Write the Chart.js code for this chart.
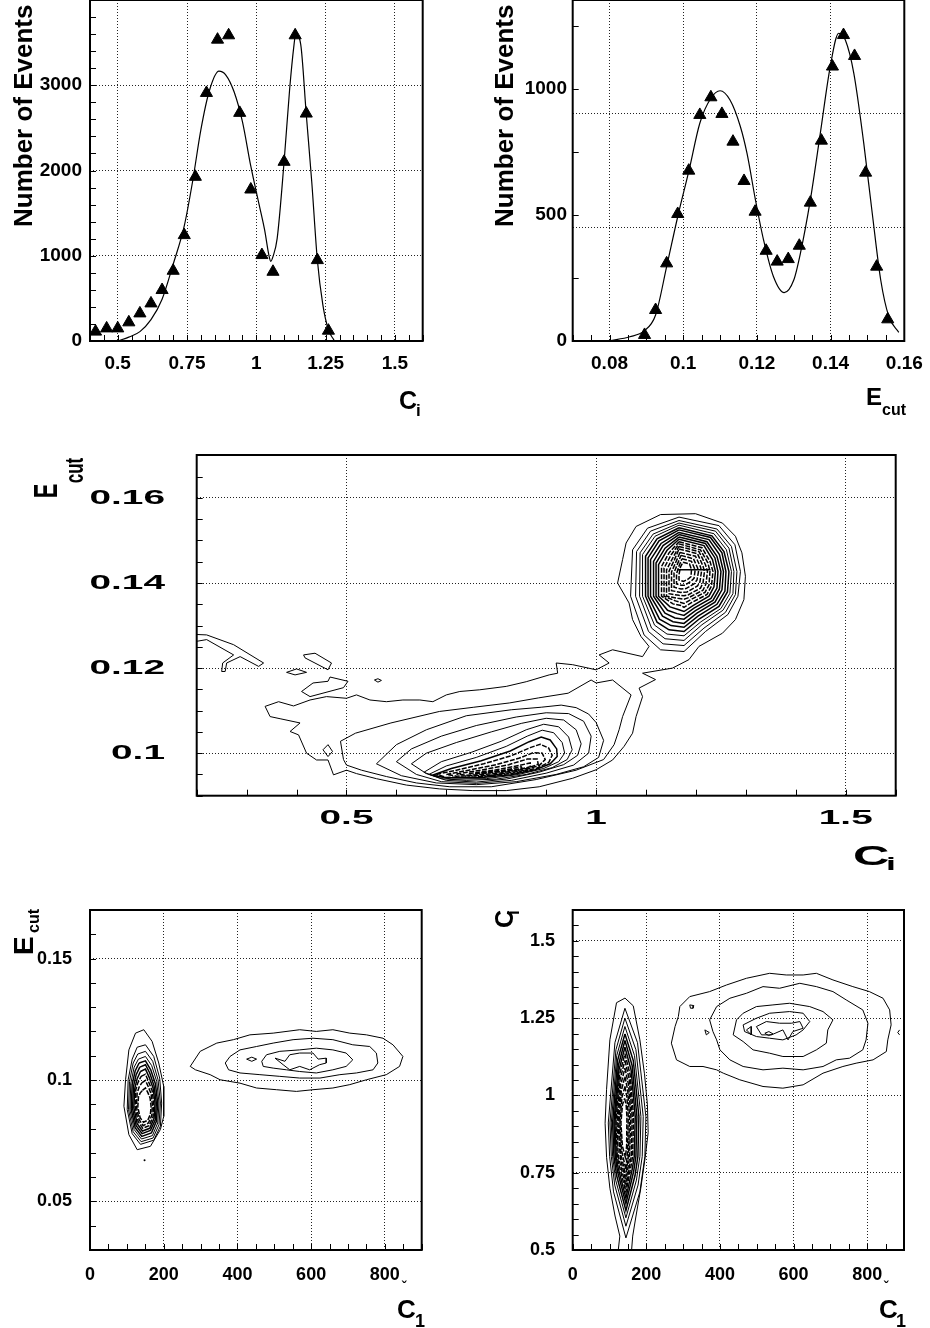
<!DOCTYPE html>
<html>
<head>
<meta charset="utf-8">
<script src="https://cdn.jsdelivr.net/npm/chart.js@4/dist/chart.umd.min.js"></script>
<style>
  html, body { margin: 0; padding: 0; background: #fff; }
  #page { position: relative; width: 930px; height: 1328px; overflow: hidden; background: #fff; }
  #page canvas { position: absolute; }
</style>
</head>
<body>
<div id="page">
  <canvas id="p-ci"   width="465" height="425" style="left:0;top:0"></canvas>
  <canvas id="p-ecut" width="465" height="425" style="left:465px;top:0"></canvas>
  <canvas id="p-map"  width="930" height="440" style="left:0;top:440px"></canvas>
  <canvas id="p-c1e"  width="465" height="438" style="left:0;top:890px"></canvas>
  <canvas id="p-c1c"  width="465" height="438" style="left:465px;top:890px"></canvas>
</div>
<script>
/* ---- C_i distribution ------------------------------------------- */
const ciBinCenters  = [0.42,0.46,0.50,0.54,0.58,0.62,0.66,0.70,0.74,0.78,0.82,0.86,0.90,0.94,0.98,1.02,1.06,1.10,1.14,1.18,1.22,1.26];
const ciEventCounts = [110,148,148,219,324,441,598,824,1242,1926,2910,3535,3586,2676,1777,1008,812,2102,3586,2668,949,121];
const ciFitX = [0.50,0.54,0.58,0.62,0.66,0.70,0.74,0.77,0.80,0.83,0.865,0.89,0.92,0.95,0.98,1.01,1.03,1.045,1.052,1.06,1.075,1.10,1.12,1.135,1.142,1.16,1.18,1.20,1.22,1.24,1.26,1.28];
const ciFitY = [0,45,110,250,490,900,1350,1870,2480,2930,3165,3120,2920,2570,2050,1600,1300,1010,935,990,1200,2100,2950,3450,3600,3480,2660,1860,950,420,130,10];
const ciTicksTop   = [0.5,0.75,1,1.25,1.5];
const ciCountTicks = [0,1000,2000,3000];

/* ---- E_cut distribution ----------------------------------------- */
const ecutBinCenters  = [0.0895,0.0925,0.0955,0.0985,0.1015,0.1045,0.1075,0.1105,0.1135,0.1165,0.1195,0.1225,0.1255,0.1285,0.1315,0.1345,0.1375,0.1405,0.1435,0.1465,0.1495,0.1525,0.1555];
const ecutEventCounts = [24,123,308,504,676,897,967,901,791,635,513,358,315,325,378,549,795,1089,1214,1131,668,295,86];
const ecutFitX = [0.080,0.0855,0.0894,0.0925,0.0955,0.0985,0.1016,0.1045,0.1075,0.1100,0.1127,0.1155,0.1173,0.1196,0.1218,0.1245,0.1274,0.1300,0.1318,0.1345,0.1372,0.1399,0.1422,0.1440,0.1463,0.1490,0.1513,0.1536,0.1558,0.1585];
const ecutFitY = [1,17,40,103,295,493,679,864,963,993,956,851,745,560,401,255,192,242,348,560,824,1089,1221,1194,1062,784,507,242,97,34];
const ecutTicksTop   = [0.08,0.1,0.12,0.14,0.16];
const ecutCountTicks = [0,500,1000];

/* ---- E_cut vs C_i contours -------------------------------------- */
const mapCiTicks   = [0.5,1,1.5];
const mapEcutTicks = [0.1,0.12,0.14,0.16];

// lowest level: one contour wrapping both clusters and the bridge between them
const mapOuter = [[1.129,0.1561],[1.199,0.1563],[1.253,0.1541],[1.279,0.1510],[1.292,0.1471],[1.299,0.1416],[1.296,0.1361],[1.279,0.1314],[1.253,0.1282],[1.206,0.1251],[1.186,0.1220],[1.153,0.1200],[1.093,0.1188],[1.119,0.1173],[1.086,0.1153],[1.093,0.1133],[1.080,0.1086],[1.073,0.1047],[1.056,0.1016],[1.033,0.0984],[1.000,0.0961],[0.953,0.0941],[0.886,0.0921],[0.820,0.0912],[0.753,0.0912],[0.686,0.0916],[0.620,0.0925],[0.560,0.0940],[0.520,0.0952],[0.500,0.0960],[0.474,0.0949],[0.463,0.0984],[0.440,0.0984],[0.420,0.1000],[0.404,0.1043],[0.387,0.1051],[0.407,0.1071],[0.367,0.1081],[0.347,0.1086],[0.337,0.1110],[0.364,0.1121],[0.394,0.1111],[0.427,0.1125],[0.460,0.1133],[0.500,0.1129],[0.520,0.1137],[0.547,0.1125],[0.580,0.1121],[0.613,0.1125],[0.647,0.1125],[0.673,0.1121],[0.700,0.1137],[0.727,0.1145],[0.767,0.1149],[0.820,0.1157],[0.860,0.1168],[0.906,0.1184],[0.923,0.1188],[0.920,0.1212],[0.953,0.1208],[1.000,0.1196],[1.026,0.1212],[1.006,0.1231],[1.033,0.1243],[1.093,0.1227],[1.106,0.1251],[1.090,0.1274],[1.073,0.1314],[1.066,0.1353],[1.043,0.1400],[1.053,0.1455],[1.060,0.1494],[1.080,0.1533]];

const mapLowerRings = [
  [[0.494,0.0985],[0.488,0.1028],[0.518,0.1047],[0.589,0.1071],[0.686,0.1098],[0.755,0.1108],[0.826,0.1118],[0.885,0.1130],[0.944,0.1141],[0.990,0.1172],[1.000,0.1165],[1.033,0.1172],[1.070,0.1137],[1.053,0.1086],[1.046,0.1055],[1.036,0.1020],[1.015,0.0985],[0.960,0.0960],[0.880,0.0938],[0.790,0.0921],[0.707,0.0921],[0.640,0.0930],[0.580,0.0945],[0.530,0.0960],[0.500,0.0972]],
  [[0.56,0.0975],[0.60,0.1020],[0.66,0.1055],[0.74,0.1088],[0.83,0.1102],[0.89,0.1108],[0.93,0.1113],[0.96,0.1107],[0.985,0.1092],[1.00,0.1072],[1.015,0.1030],[1.005,0.0990],[0.975,0.0968],[0.92,0.0950],[0.84,0.0933],[0.76,0.0926],[0.68,0.0930],[0.61,0.0947]],
  [[0.60,0.0980],[0.63,0.1010],[0.69,0.1040],[0.76,0.1065],[0.84,0.1085],[0.90,0.1095],[0.945,0.1093],[0.975,0.1075],[0.99,0.1040],[0.985,0.1000],[0.955,0.0972],[0.90,0.0953],[0.83,0.0936],[0.76,0.0929],[0.69,0.0933],[0.64,0.0950]],
  [[0.63,0.0975],[0.66,0.1000],[0.72,0.1025],[0.79,0.1050],[0.85,0.1070],[0.90,0.1082],[0.935,0.1078],[0.96,0.1055],[0.97,0.1022],[0.963,0.0995],[0.935,0.0973],[0.885,0.0955],[0.82,0.0939],[0.76,0.0932],[0.70,0.0936],[0.66,0.0952]],
  [[0.655,0.0955],[0.69,0.0980],[0.75,0.1002],[0.81,0.1028],[0.86,0.1055],[0.895,0.1068],[0.925,0.1062],[0.945,0.1038],[0.952,0.1008],[0.942,0.0985],[0.912,0.0966],[0.86,0.0950],[0.80,0.0939],[0.74,0.0936],[0.69,0.0940]],
  [[0.665,0.0950],[0.70,0.0970],[0.76,0.0990],[0.82,0.1016],[0.862,0.1040],[0.892,0.1054],[0.915,0.1048],[0.932,0.1025],[0.937,0.1000],[0.925,0.0980],[0.895,0.0964],[0.845,0.0950],[0.78,0.0940],[0.71,0.0939]],
  [[0.672,0.0948],[0.71,0.0964],[0.77,0.0982],[0.828,0.1005],[0.866,0.1027],[0.89,0.1038],[0.908,0.1031],[0.921,0.1010],[0.922,0.0992],[0.908,0.0975],[0.878,0.0961],[0.83,0.0949],[0.765,0.0942],[0.70,0.0942]],
  [[0.68,0.0950],[0.72,0.0960],[0.775,0.0975],[0.83,0.0994],[0.868,0.1013],[0.888,0.1021],[0.905,0.1012],[0.912,0.0995],[0.905,0.0978],[0.88,0.0964],[0.83,0.0952],[0.76,0.0944],[0.70,0.0943]],
  [[0.70,0.0950],[0.745,0.0960],[0.80,0.0973],[0.845,0.0988],[0.874,0.1001],[0.892,0.1000],[0.898,0.0985],[0.886,0.0971],[0.85,0.0958],[0.79,0.0948],[0.72,0.0946]],
  [[0.72,0.0951],[0.77,0.0960],[0.825,0.0973],[0.862,0.0986],[0.882,0.0986],[0.884,0.0974],[0.856,0.0962],[0.80,0.0952],[0.74,0.0948]],
  [[0.745,0.0952],[0.80,0.0961],[0.845,0.0971],[0.868,0.0977],[0.868,0.0968],[0.84,0.0960],[0.78,0.0953]],
  [[0.77,0.0954],[0.82,0.0961],[0.85,0.0968],[0.852,0.0964],[0.82,0.0958],[0.79,0.0955]]
];

const mapUpperRings = [
  [[1.166,0.1555],[1.246,0.1535],[1.278,0.1490],[1.289,0.1427],[1.284,0.1369],[1.264,0.1326],[1.219,0.1286],[1.176,0.1239],[1.129,0.1243],[1.096,0.1278],[1.069,0.1369],[1.073,0.1478],[1.103,0.1529]],
  [[1.166,0.1547],[1.242,0.1527],[1.271,0.1486],[1.282,0.1427],[1.279,0.1373],[1.259,0.1331],[1.216,0.1294],[1.176,0.1253],[1.134,0.1257],[1.105,0.1286],[1.079,0.1369],[1.081,0.1474],[1.109,0.1522]],
  [[1.166,0.1541],[1.239,0.1522],[1.266,0.1482],[1.276,0.1427],[1.274,0.1375],[1.254,0.1336],[1.212,0.1302],[1.176,0.1265],[1.138,0.1269],[1.111,0.1294],[1.087,0.1369],[1.088,0.1471],[1.114,0.1515]],
  [[1.166,0.1536],[1.236,0.1516],[1.261,0.1478],[1.271,0.1427],[1.268,0.1376],[1.250,0.1340],[1.210,0.1309],[1.176,0.1276],[1.142,0.1280],[1.117,0.1301],[1.093,0.1369],[1.093,0.1467],[1.118,0.1510]],
  [[1.166,0.1530],[1.232,0.1511],[1.256,0.1474],[1.266,0.1427],[1.263,0.1379],[1.246,0.1345],[1.207,0.1316],[1.176,0.1286],[1.146,0.1290],[1.122,0.1308],[1.099,0.1369],[1.099,0.1463],[1.122,0.1504]],
  [[1.166,0.1525],[1.229,0.1507],[1.252,0.1471],[1.260,0.1427],[1.258,0.1381],[1.242,0.1350],[1.204,0.1322],[1.176,0.1296],[1.150,0.1300],[1.127,0.1315],[1.104,0.1369],[1.104,0.1459],[1.126,0.1499]],
  [[1.166,0.1519],[1.226,0.1502],[1.247,0.1467],[1.255,0.1427],[1.252,0.1384],[1.238,0.1355],[1.202,0.1329],[1.176,0.1305],[1.154,0.1309],[1.133,0.1322],[1.109,0.1369],[1.109,0.1455],[1.130,0.1493]],
  [[1.166,0.1514],[1.222,0.1497],[1.242,0.1463],[1.250,0.1427],[1.247,0.1386],[1.234,0.1359],[1.199,0.1335],[1.176,0.1315],[1.158,0.1318],[1.138,0.1329],[1.115,0.1369],[1.115,0.1451],[1.134,0.1488]],
  [[1.166,0.1508],[1.219,0.1493],[1.238,0.1459],[1.244,0.1427],[1.242,0.1388],[1.230,0.1364],[1.196,0.1341],[1.176,0.1324],[1.162,0.1328],[1.143,0.1336],[1.120,0.1369],[1.120,0.1447],[1.138,0.1482]],
  [[1.166,0.1503],[1.216,0.1488],[1.233,0.1455],[1.239,0.1427],[1.236,0.1391],[1.226,0.1369],[1.194,0.1347],[1.176,0.1333],[1.166,0.1337],[1.148,0.1344],[1.125,0.1369],[1.125,0.1443],[1.142,0.1477]],
  [[1.166,0.1497],[1.212,0.1483],[1.228,0.1451],[1.234,0.1427],[1.231,0.1393],[1.222,0.1373],[1.191,0.1354],[1.176,0.1343],[1.170,0.1347],[1.154,0.1351],[1.131,0.1369],[1.131,0.1439],[1.146,0.1471]],
  [[1.166,0.1492],[1.209,0.1478],[1.224,0.1447],[1.228,0.1427],[1.226,0.1395],[1.218,0.1378],[1.188,0.1360],[1.176,0.1352],[1.159,0.1358],[1.136,0.1369],[1.136,0.1435],[1.150,0.1466]],
  [[1.166,0.1486],[1.206,0.1474],[1.219,0.1443],[1.223,0.1427],[1.220,0.1398],[1.214,0.1383],[1.186,0.1366],[1.176,0.1362],[1.164,0.1364],[1.141,0.1369],[1.141,0.1431],[1.154,0.1460]],
  [[1.166,0.1480],[1.203,0.1469],[1.214,0.1440],[1.217,0.1427],[1.214,0.1400],[1.209,0.1388],[1.184,0.1372],[1.176,0.1370],[1.166,0.1371],[1.146,0.1375],[1.146,0.1428],[1.157,0.1455]],
  [[1.168,0.1472],[1.199,0.1463],[1.209,0.1438],[1.211,0.1427],[1.208,0.1403],[1.203,0.1393],[1.182,0.1379],[1.170,0.1378],[1.151,0.1382],[1.151,0.1426],[1.160,0.1450]],
  [[1.170,0.1465],[1.195,0.1457],[1.203,0.1436],[1.205,0.1427],[1.202,0.1407],[1.196,0.1398],[1.180,0.1387],[1.170,0.1386],[1.156,0.1390],[1.156,0.1424],[1.163,0.1445]],
  [[1.172,0.1457],[1.191,0.1451],[1.197,0.1434],[1.198,0.1427],[1.196,0.1411],[1.190,0.1404],[1.178,0.1395],[1.170,0.1395],[1.161,0.1398],[1.161,0.1422],[1.166,0.1440]],
  [[1.174,0.1449],[1.187,0.1445],[1.191,0.1432],[1.190,0.1415],[1.184,0.1409],[1.175,0.1404],[1.166,0.1407],[1.166,0.1420],[1.169,0.1438]]
];
const mapUpperBar = [[1.163,0.1431],[1.229,0.1431]];

const mapIslands = [
  [[0.414,0.1231],[0.437,0.1235],[0.470,0.1212],[0.463,0.1196],[0.417,0.1224]],
  [[0.380,0.1190],[0.400,0.1198],[0.420,0.1190],[0.397,0.1184]],
  [[0.410,0.1145],[0.433,0.1165],[0.463,0.1169],[0.467,0.1179],[0.503,0.1169],[0.494,0.1154],[0.427,0.1133]],
  [[0.556,0.1172],[0.563,0.1175],[0.570,0.1171],[0.563,0.1167]],
  [[0.453,0.1008],[0.463,0.1020],[0.472,0.1004],[0.463,0.0992]]
];
const mapEdgeTail = [[0.200,0.1279],[0.220,0.1278],[0.274,0.1255],[0.334,0.1212],[0.324,0.1204],[0.287,0.1227],[0.260,0.1212],[0.257,0.1192],[0.250,0.1192],[0.252,0.1212],[0.274,0.1231],[0.220,0.1267],[0.200,0.1263]];

/* ---- E_cut vs C_1 contours -------------------------------------- */
const c1Ticks       = [0,200,400,600,800];
const c1EcutTicks   = [0.05,0.1,0.15];
const c1eLeftRings = [
  [[123.5,0.1193],[146,0.1207],[168.5,0.1159],[186.5,0.1070],[200,0.0974],[200,0.0850],[191,0.0796],[164,0.0727],[128,0.0713],[105.5,0.0775],[92,0.0892],[96.5,0.1001],[105.5,0.1124]],
  [[128,0.1135],[150.5,0.1145],[173,0.1097],[189,0.1008],[194.5,0.0905],[191,0.0810],[173,0.0752],[137,0.0735],[114.5,0.0779],[101,0.0878],[103.5,0.1001],[114.5,0.1086]],
  [[129.7,0.1107],[150.5,0.1118],[170.2,0.1077],[184.6,0.1001],[191,0.0905],[187.3,0.0816],[171.1,0.0761],[138.7,0.0746],[117.1,0.0787],[104.5,0.0878],[107.2,0.0994],[117.1,0.1070]],
  [[131.5,0.1086],[150.5,0.1097],[167.5,0.1059],[181,0.0994],[187.3,0.0905],[183.7,0.0823],[169.3,0.0771],[139.6,0.0757],[119.8,0.0796],[108.1,0.0878],[110.8,0.0987],[119.8,0.1053]],
  [[133.3,0.1070],[150.5,0.1079],[164.8,0.1042],[177.4,0.0985],[183.7,0.0905],[180.1,0.0830],[166.6,0.0782],[140.5,0.0768],[122.5,0.0804],[111.7,0.0880],[114.4,0.0981],[122.5,0.1037]],
  [[135.1,0.1053],[150.5,0.1063],[162.1,0.1029],[173.8,0.0976],[180.1,0.0905],[177.4,0.0837],[163.9,0.0792],[141.4,0.0779],[125.2,0.0812],[115.3,0.0883],[118,0.0974],[125.2,0.1022]],
  [[136.9,0.1035],[150.5,0.1045],[160.3,0.1012],[171.1,0.0967],[176.5,0.0905],[173.8,0.0842],[162.1,0.0801],[142.3,0.0790],[127.9,0.0820],[118.9,0.0886],[121.6,0.0967],[127.9,0.1005]],
  [[138.7,0.1015],[150.5,0.1024],[158.5,0.0994],[168.4,0.0957],[172.9,0.0905],[171.1,0.0848],[160.3,0.0812],[143.2,0.0801],[130.6,0.0829],[122.5,0.0889],[124.3,0.0960],[129.7,0.0988]],
  [[140.5,0.0988],[150.5,0.0998],[157.6,0.0974],[165.7,0.0944],[169.3,0.0898],[167.5,0.0853],[158.5,0.0823],[144.1,0.0812],[133.3,0.0837],[126.1,0.0889],[127.9,0.0946],[133.3,0.0971]],
  [[142.3,0.0957],[150.5,0.0967],[156.7,0.0949],[163,0.0926],[165.7,0.0891],[163.9,0.0859],[156.7,0.0834],[145,0.0826],[136,0.0845],[129.7,0.0889],[131.5,0.0930],[136,0.0946]]
];
const c1eRightRings = [
  [[272,0.1056],[299,0.1118],[344,0.1152],[389,0.1166],[434,0.1186],[497,0.1193],[569,0.1207],[614,0.1200],[659,0.1207],[705,0.1193],[750,0.1186],[795,0.1172],[822,0.1145],[849,0.1097],[840,0.1056],[804,0.1022],[750,0.1001],[705,0.0981],[659,0.0967],[605,0.0960],[560,0.0953],[506,0.0960],[452,0.0967],[407,0.0987],[353,0.1001],[326,0.1022],[286,0.1042]],
  [[367,0.1070],[380,0.1097],[407,0.1124],[452,0.1138],[497,0.1152],[551,0.1166],[605,0.1172],[659,0.1166],[713,0.1145],[759,0.1138],[777,0.1111],[781,0.1070],[768,0.1042],[723,0.1029],[678,0.1022],[624,0.1008],[569,0.1008],[515,0.1015],[461,0.1022],[407,0.1029],[376,0.1042]],
  [[466,0.1077],[479,0.1104],[515,0.1118],[569,0.1124],[614,0.1131],[659,0.1124],[695,0.1111],[713,0.1083],[695,0.1056],[659,0.1042],[614,0.1029],[569,0.1035],[533,0.1042],[497,0.1049],[470,0.1056]],
  [[502,0.1090],[529,0.1077],[542,0.1104],[569,0.1111],[605,0.1111],[619,0.1086],[641,0.1090],[641,0.1070],[623,0.1063],[596,0.1042],[569,0.1056],[542,0.1042],[524,0.1063]],
  [[425,0.1086],[439,0.1094],[452,0.1086],[439,0.1077]]
];
const c1eStray = [[148,0.067]];

/* ---- C_i vs C_1 contours ---------------------------------------- */
const c1CiTicks = [0.5,0.75,1,1.25,1.5];
const c1cLeftOuter = [[123.8,0.500],[128,0.545],[115,0.610],[101,0.700],[92,0.800],[88,0.910],[92,1.020],[101,1.180],[119,1.300],[142,1.315],[164.5,1.290],[182.5,1.180],[195,1.070],[203,0.970],[205,0.880],[197,0.800],[185,0.700],[172,0.610],[163,0.545],[160,0.500]];
const c1cLeftRings = [
  [[141.9,1.282],[176.0,1.171],[198.8,0.932],[196.1,0.803],[182.5,0.688],[144.6,0.539],[111.0,0.688],[100.3,0.803],[96.7,0.911],[114.7,1.171]],
  [[141.9,1.250],[171.7,1.148],[191.6,0.932],[188.9,0.803],[177.5,0.710],[144.6,0.577],[114.2,0.710],[104.8,0.803],[101.2,0.911],[117.5,1.148]],
  [[141.9,1.223],[167.9,1.129],[185.3,0.932],[182.6,0.803],[173.1,0.726],[144.6,0.604],[116.7,0.726],[108.4,0.803],[104.8,0.911],[119.6,1.129]],
  [[141.9,1.199],[164.6,1.113],[179.8,0.932],[177.1,0.803],[169.3,0.741],[144.6,0.628],[119.3,0.741],[112.0,0.803],[108.4,0.911],[121.8,1.113]],
  [[141.9,1.178],[161.4,1.097],[174.4,0.932],[171.7,0.803],[165.5,0.754],[144.6,0.650],[121.8,0.754],[115.6,0.803],[112.0,0.911],[124.0,1.097]],
  [[141.9,1.156],[158.7,1.082],[169.9,0.932],[167.2,0.803],[162.3,0.765],[144.6,0.668],[123.7,0.765],[118.4,0.803],[114.7,0.911],[125.6,1.082]],
  [[141.9,1.135],[156.0,1.067],[165.4,0.932],[162.7,0.803],[159.1,0.776],[144.6,0.687],[125.6,0.776],[121.1,0.803],[117.5,0.911],[127.2,1.067]],
  [[141.9,1.113],[153.8,1.052],[161.7,0.932],[159.0,0.803],[156.6,0.786],[144.6,0.704],[127.5,0.786],[123.8,0.803],[120.2,0.911],[128.8,1.052]],
  [[141.9,1.088],[151.6,1.035],[158.1,0.932],[154.1,0.797],[144.6,0.721],[129.4,0.797],[122.9,0.911],[130.5,1.035]],
  [[141.9,1.061],[149.5,1.016],[154.5,0.932],[151.5,0.807],[144.6,0.738],[131.3,0.807],[125.6,0.911],[132.1,1.016]],
  [[141.9,1.029],[147.3,0.993],[150.9,0.932],[149.0,0.820],[144.6,0.760],[133.2,0.820],[128.3,0.911],[133.7,0.993]],
  [[141.0,0.990],[145.1,0.971],[147.3,0.932],[146.5,0.836],[143.0,0.800],[135.1,0.836],[131.0,0.911],[135.4,0.971]]
];
const c1cRightRings = [
  [[291,1.2875],[318,1.3198],[372,1.3360],[418,1.3575],[472,1.3791],[535,1.3952],[580,1.3898],[626,1.3898],[662,1.3952],[707,1.3737],[761,1.3521],[806,1.3360],[843,1.3145],[861,1.2768],[865,1.2283],[856,1.1798],[852,1.1421],[816,1.1152],[770,1.1044],[734,1.0937],[680,1.0721],[626,1.0344],[571,1.0236],[517,1.0290],[454,1.0506],[409,1.0721],[391,1.0829],[354,1.0937],[318,1.0937],[282,1.1152],[268,1.1691],[278,1.2229],[287,1.2552]],
  [[372,1.2445],[391,1.2875],[427,1.3145],[472,1.3306],[517,1.3521],[562,1.3468],[617,1.3629],[662,1.3521],[707,1.3360],[743,1.3091],[788,1.2768],[802,1.2337],[797,1.1798],[788,1.1475],[752,1.1206],[716,1.1152],[680,1.0937],[626,1.0829],[571,1.0883],[517,1.0829],[463,1.0937],[427,1.1152],[400,1.1475],[391,1.1798],[381,1.2067]],
  [[445,1.2445],[463,1.2660],[499,1.2875],[544,1.2929],[589,1.2983],[644,1.2875],[680,1.2714],[707,1.2445],[693,1.2121],[689,1.1691],[662,1.1475],[626,1.1260],[571,1.1260],[535,1.1367],[490,1.1475],[463,1.1744],[436,1.1960]],
  [[463,1.2283],[499,1.2498],[535,1.2660],[589,1.2714],[626,1.2660],[644,1.2391],[626,1.2121],[607,1.1960],[571,1.1798],[535,1.1852],[499,1.1906],[467,1.2067]],
  [[499,1.2229],[526,1.2391],[562,1.2337],[594,1.2337],[617,1.2391],[626,1.2175],[598,1.2067],[585,1.1798],[571,1.2121],[540,1.1960],[513,1.1960]],
  [[522,1.2014],[533,1.2067],[544,1.1993],[532,1.1938]],
  [[318,1.2929],[329,1.2908],[327,1.2822],[320,1.2822]],
  [[359,1.2121],[371,1.2036],[363,1.1960]],
  [[472,1.2121],[485,1.2229],[485,1.1960]]
];
const c1cEdgeHook = [[888,1.2121],[883,1.2036],[888,1.1960]];

/* ---- drawing helpers -------------------------------------------- */
const FONT = '"Liberation Sans", Arial, Helvetica, sans-serif';

const pts = (xs, ys) => xs.map((x, i) => ({ x, y: ys[i] }));

function contour(poly, o = {}) {
  const data = poly.map(([x, y]) => ({ x, y }));
  if (!o.open) data.push({ x: poly[0][0], y: poly[0][1] });
  return {
    data, showLine: true, pointRadius: 0, tension: 0,
    borderColor: '#000', borderWidth: o.w || 1, borderDash: o.dash || []
  };
}
// the packed inner levels are drawn heavier and broken, as in the dense centres
const ringSet = (rings, heavyFrom, dashFrom) =>
  rings.map((r, i) => contour(r, {
    w: i >= heavyFrom ? 1.5 : 1,
    dash: i >= dashFrom ? [5, 1.5] : []
  }));

function put(ctx, s, x, y, size, o = {}) {
  ctx.save();
  ctx.translate(x, y);
  if (o.rot) { ctx.rotate(-Math.PI / 2); ctx.scale(1, o.sx || 1); }
  else ctx.scale(o.sx || 1, 1);
  ctx.font = `bold ${size}px ${FONT}`;
  ctx.textAlign = o.align || 'left';
  ctx.textBaseline = o.base || 'alphabetic';
  ctx.fillText(s, 0, 0);
  ctx.restore();
}

/* frame, inward ticks, labels and titles in the PAW style */
const pawAxes = {
  id: 'pawAxes',
  afterDraw(chart, _a, o) {
    const { ctx, chartArea: a, scales: { x, y } } = chart;
    ctx.save();
    ctx.strokeStyle = '#000';
    ctx.fillStyle = '#000';
    ctx.lineWidth = 1;
    ctx.beginPath();
    for (let i = Math.ceil(x.min / o.xMinor - 1e-6); i * o.xMinor <= x.max + 1e-9; i++) {
      const px = Math.round(x.getPixelForValue(i * o.xMinor)) + 0.5;
      ctx.moveTo(px, a.bottom); ctx.lineTo(px, a.bottom - 6);
    }
    for (let i = Math.ceil(y.min / o.yMinor - 1e-6); i * o.yMinor <= y.max + 1e-9; i++) {
      const py = Math.round(y.getPixelForValue(i * o.yMinor)) + 0.5;
      ctx.moveTo(a.left, py); ctx.lineTo(a.left + 6, py);
    }
    ctx.stroke();

    ctx.lineWidth = 2;
    ctx.strokeRect(a.left, a.top, a.right - a.left, a.bottom - a.top);

    o.xTicks.forEach(v => put(ctx, String(v), x.getPixelForValue(v), o.xBase, o.size, { align: 'center', sx: o.sx }));
    o.yTicks.forEach(v => put(ctx, String(v), o.yRight, y.getPixelForValue(v), o.size, { align: 'right', base: 'middle', sx: o.sx }));
    o.titles.forEach(t => put(ctx, t.t, t.x, t.y, t.size, t));
    ctx.restore();
  }
};

function axis(min, max, step) {
  return {
    type: 'linear', min, max,
    ticks: { display: false, stepSize: step, includeBounds: false },
    grid: { color: '#222', lineWidth: 1, drawTicks: false },
    border: { display: false, dash: [1, 2] },
    afterFit(s) { if (s.isHorizontal()) s.height = 0; else s.width = 0; }
  };
}

function panel(id, spec) {
  return new Chart(document.getElementById(id), {
    type: 'scatter',
    data: { datasets: spec.datasets },
    options: {
      responsive: false, animation: false, devicePixelRatio: 1, events: [],
      layout: { padding: spec.pad, autoPadding: false },
      scales: { x: axis(...spec.x), y: axis(...spec.y) },
      plugins: { legend: { display: false }, tooltip: { enabled: false }, pawAxes: spec.axes }
    },
    plugins: [pawAxes]
  });
}

const markers = (xs, ys) => ({
  data: pts(xs, ys), pointStyle: 'triangle', pointRadius: 7,
  backgroundColor: '#000', borderColor: '#000', borderWidth: 1
});
const fitLine = (xs, ys) => ({
  data: pts(xs, ys), showLine: true, pointRadius: 0,
  cubicInterpolationMode: 'monotone', borderColor: '#000', borderWidth: 1.2
});

/* ---- top left: C_i ---------------------------------------------- */
panel('p-ci', {
  pad: { left: 90, top: 0, right: 42.3, bottom: 84 },
  x: [0.4, 1.6, 0.25], y: [0, 4000, 1000],
  datasets: [markers(ciBinCenters, ciEventCounts), fitLine(ciFitX, ciFitY)],
  axes: {
    xMinor: 0.05, yMinor: 200, xTicks: ciTicksTop, yTicks: ciCountTicks,
    size: 19, xBase: 369, yRight: 82,
    titles: [
      { t: 'Number of Events', size: 26, x: 31.5, y: 227, rot: true },
      { t: 'C', size: 25, x: 399, y: 409 },
      { t: 'i', size: 17, x: 416, y: 416 }
    ]
  }
});

/* ---- top right: E_cut ------------------------------------------- */
panel('p-ecut', {
  pad: { left: 107.7, top: 0, right: 25.7, bottom: 84 },
  x: [0.07, 0.16, 0.02], y: [0, 1353, 500],
  datasets: [markers(ecutBinCenters, ecutEventCounts), fitLine(ecutFitX, ecutFitY)],
  axes: {
    xMinor: 0.005, yMinor: 250, xTicks: ecutTicksTop, yTicks: ecutCountTicks,
    size: 19, xBase: 369, yRight: 102,
    titles: [
      { t: 'Number of Events', size: 26, x: 48, y: 227, rot: true },
      { t: 'E', size: 24, x: 401, y: 405 },
      { t: 'cut', size: 16, x: 417, y: 415 }
    ]
  }
});

/* ---- middle: E_cut vs C_i --------------------------------------- */
panel('p-map', {
  pad: { left: 196.7, top: 15, right: 34.3, bottom: 84.3 },
  x: [0.2, 1.6, 0.5], y: [0.09, 0.1701, 0.02],
  datasets: [
    contour(mapOuter),
    ...ringSet(mapLowerRings, 6, 7),
    ...ringSet(mapUpperRings, 4, 10),
    contour(mapUpperBar, { open: true, w: 1.5 }),
    ...mapIslands.map(r => contour(r)),
    contour(mapEdgeTail, { open: true })
  ],
  axes: {
    xMinor: 0.1, yMinor: 0.005, xTicks: mapCiTicks, yTicks: mapEcutTicks,
    size: 21, sx: 1.85, xBase: 384, yRight: 165,
    titles: [
      { t: 'E', size: 22, x: 57, y: 58.3, rot: true, sx: 1.5 },
      { t: 'cut', size: 17, x: 83, y: 43.3, rot: true, sx: 1.5 },
      { t: 'C', size: 27, x: 853, y: 425, sx: 1.87 },
      { t: 'i', size: 19, x: 886, y: 430, sx: 1.87 }
    ]
  }
});

/* ---- bottom left: E_cut vs C_1 ---------------------------------- */
panel('p-c1e', {
  pad: { left: 90, top: 20, right: 43.3, bottom: 78 },
  x: [0, 900, 200], y: [0.03, 0.17, 0.05],
  datasets: [
    ...ringSet(c1eLeftRings, 4, 7),
    ...c1eRightRings.map(r => contour(r)),
    { data: pts(c1eStray.map(p => p[0]), c1eStray.map(p => p[1])), pointRadius: 1, backgroundColor: '#000', borderWidth: 0 }
  ],
  axes: {
    xMinor: 50, yMinor: 0.01, xTicks: c1Ticks, yTicks: c1EcutTicks,
    size: 18, xBase: 390, yRight: 72,
    titles: [
      { t: 'E', size: 28, x: 33.3, y: 65, rot: true },
      { t: 'cut', size: 16, x: 38.5, y: 43, rot: true },
      { t: 'C', size: 26, x: 397, y: 428 },
      { t: '1', size: 18, x: 415, y: 437 },
      { t: 'ˇ', size: 14, x: 404, y: 402, align: 'center' }
    ]
  }
});

/* ---- bottom right: C_i vs C_1 ----------------------------------- */
panel('p-c1c', {
  pad: { left: 107.7, top: 20, right: 26, bottom: 78 },
  x: [0, 900, 200], y: [0.5, 1.6, 0.25],
  datasets: [
    contour(c1cLeftOuter, { open: true }),
    ...ringSet(c1cLeftRings, 3, 6),
    ...c1cRightRings.map(r => contour(r)),
    contour(c1cEdgeHook, { open: true })
  ],
  axes: {
    xMinor: 50, yMinor: 0.05, xTicks: c1Ticks, yTicks: c1CiTicks,
    size: 18, xBase: 390, yRight: 90,
    titles: [
      { t: 'C', size: 25, x: 48, y: 38, rot: true },
      { t: 'i', size: 17, x: 54, y: 25, rot: true },
      { t: 'C', size: 26, x: 414, y: 428 },
      { t: '1', size: 18, x: 431, y: 437 },
      { t: 'ˇ', size: 14, x: 421, y: 402, align: 'center' }
    ]
  }
});
</script>
</body>
</html>
